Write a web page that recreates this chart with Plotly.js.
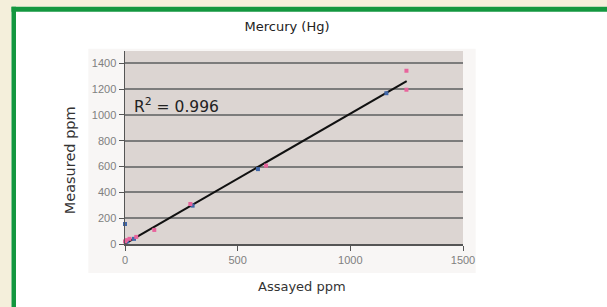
<!DOCTYPE html>
<html><head><meta charset="utf-8">
<script src="https://cdn.plot.ly/plotly-3.0.1.min.js"></script>
<style>html,body{margin:0;padding:0;background:#f4efdb;}#chart{width:607px;height:307px;}</style>
</head><body><div id="chart"></div>
<script>
const blueX = [0, 10, 40, 300, 590, 1160];
const blueY = [155, 20, 40, 297, 580, 1168];
const pinkX = [0, 5, 20, 50, 130, 290, 626, 1249, 1249];
const pinkY = [20, 30, 40, 55, 109, 310, 607, 1342, 1195];
const fitX = [0, 1250];
const fitY = [2, 1262];
const xTicks = [0, 500, 1000, 1500];
const yTicks = [0, 200, 400, 600, 800, 1000, 1200, 1400];

const W = 607, H = 307;
const L = 124.7, R = 463.3, T = 51.3, B = 244;
const px = v => (v - L) / (R - L);
const py = v => (B - v) / (B - T);
const TXT = '"DejaVu Sans", "Noto Sans", sans-serif';
const TICK = 'Arial, "Liberation Sans", sans-serif';

const data = [
  {x: fitX, y: fitY, mode: 'lines', line: {color: '#111', width: 2}, hoverinfo: 'skip', showlegend: false},
  {x: blueX, y: blueY, mode: 'markers', marker: {symbol: 'square', size: 4, color: '#3f66a8'}, cliponaxis: false, showlegend: false},
  {x: pinkX, y: pinkY, mode: 'markers', marker: {symbol: 'square', size: 4, color: '#e8649c'}, cliponaxis: false, showlegend: false}
];

const layout = {
  width: W, height: H,
  paper_bgcolor: 'rgba(0,0,0,0)',
  plot_bgcolor: 'rgba(0,0,0,0)',
  margin: {l: L, r: W - R, t: T, b: H - B},
  showlegend: false,
  font: {family: TXT},
  xaxis: {
    range: [0, 1500], tickvals: xTicks, ticktext: xTicks.map(String),
    showgrid: false, zeroline: false, showline: true, linecolor: '#555', linewidth: 1.5,
    ticks: 'outside', ticklen: 5, tickcolor: '#555', tickwidth: 1,
    tickfont: {family: TICK, size: 11, color: '#808080'}
  },
  yaxis: {
    range: [0, 1495], tickvals: yTicks, ticktext: yTicks.map(String),
    showgrid: true, gridcolor: '#7c7c7c', gridwidth: 2,
    zeroline: false, showline: true, linecolor: '#555', linewidth: 1.5,
    ticks: 'outside', ticklen: 5, tickcolor: '#555', tickwidth: 1,
    tickfont: {family: TICK, size: 11, color: '#808080'}
  },
  title: {text: 'Mercury (Hg)', font: {family: TXT, size: 13, color: '#222'}, x: 287 / W, xanchor: 'center', y: 1 - 26 / H, yanchor: 'middle'},
  shapes: [
    {type: 'rect', xref: 'paper', yref: 'paper', x0: px(11), x1: px(620), y0: py(320), y1: py(7), fillcolor: '#ffffff', line: {width: 0}, layer: 'below'},
    {type: 'rect', xref: 'paper', yref: 'paper', x0: px(11), x1: px(15.5), y0: py(320), y1: py(7), fillcolor: '#13973f', line: {width: 0}, layer: 'below'},
    {type: 'rect', xref: 'paper', yref: 'paper', x0: px(11), x1: px(620), y0: py(12), y1: py(7), fillcolor: '#13973f', line: {width: 0}, layer: 'below'},
    {type: 'rect', xref: 'paper', yref: 'paper', x0: px(88), x1: px(476), y0: py(273), y1: py(49), fillcolor: '#f8f6f5', line: {width: 0}, layer: 'below'},
    {type: 'rect', xref: 'paper', yref: 'paper', x0: 0, x1: 1, y0: 0, y1: 1, fillcolor: '#dcd5d2', line: {width: 0}, layer: 'below'}
  ],
  annotations: [
    {xref: 'paper', yref: 'paper', x: px(132), y: py(106), xanchor: 'left', yanchor: 'middle', showarrow: false,
     text: 'R<sup>2</sup> = 0.996', font: {family: TXT, size: 15.5, color: '#222'}},
    {xref: 'paper', yref: 'paper', x: px(302), y: py(286), xanchor: 'center', yanchor: 'middle', showarrow: false,
     text: 'Assayed ppm', font: {family: TXT, size: 13, color: '#333'}},
    {xref: 'paper', yref: 'paper', x: px(69), y: py(160), xanchor: 'center', yanchor: 'middle', showarrow: false, textangle: -90,
     text: 'Measured ppm', font: {family: TXT, size: 14.5, color: '#333'}}
  ]
};

Plotly.newPlot('chart', data, layout, {displayModeBar: false, staticPlot: true});
</script></body></html>
